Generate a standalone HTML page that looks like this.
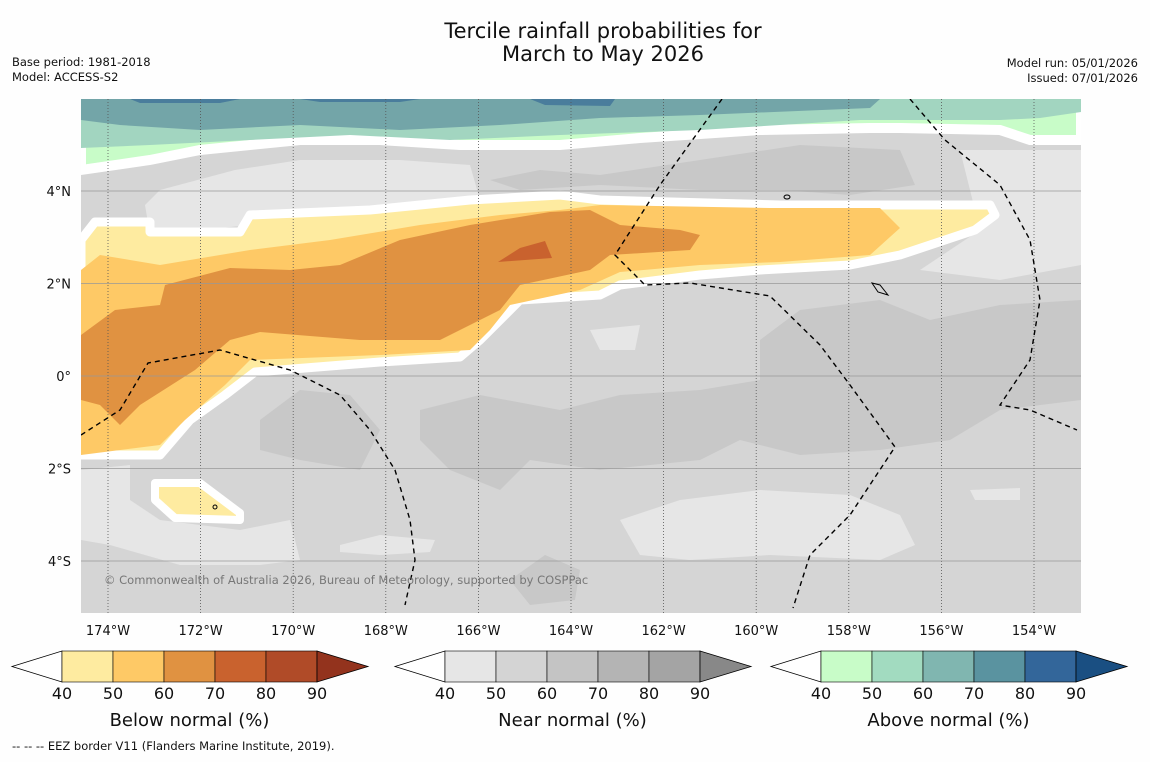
<!DOCTYPE html>
<html><head><meta charset="utf-8"><style>
body{margin:0;background:#fefefe;width:1150px;height:758px;overflow:hidden;font-family:"DejaVu Sans","Liberation Sans",sans-serif}
</style></head><body>
<svg width="1150" height="758" viewBox="0 0 1150 758" xmlns="http://www.w3.org/2000/svg" font-family="DejaVu Sans, Liberation Sans, sans-serif">
<rect width="1150" height="758" fill="#fefefe"/>
<text x="603" y="38" font-size="21" text-anchor="middle" fill="#111">Tercile rainfall probabilities for</text>
<text x="603" y="61" font-size="21" text-anchor="middle" fill="#111">March to May 2026</text>
<g font-size="11.5" fill="#111">
<text x="12" y="66">Base period: 1981-2018</text>
<text x="12" y="81">Model: ACCESS-S2</text>
<text x="1138" y="67" text-anchor="end">Model run: 05/01/2026</text>
<text x="1138" y="82" text-anchor="end">Issued: 07/01/2026</text>
</g>
<defs><clipPath id="mc"><rect x="81" y="99" width="1000" height="514"/></clipPath></defs>
<g clip-path="url(#mc)">
<rect x="81" y="99" width="1000" height="514" fill="#d5d5d5"/>
<g fill="#c8c8c8">
<path d="M490,180 L540,170 L600,175 L700,160 L800,145 L900,150 L915,185 L850,195 L780,190 L700,190 L600,185 L520,190 Z"/>
<path d="M760,340 L800,310 L880,300 L930,320 L1000,305 L1081,300 L1081,400 L1000,410 L950,440 L880,450 L800,455 L740,440 L700,460 L600,470 L530,460 L500,490 L450,470 L420,440 L420,410 L480,395 L560,410 L620,395 L700,390 L760,380 Z"/>
<path d="M260,420 L300,390 L350,395 L380,430 L360,470 L300,460 L260,450 Z"/>
<path d="M510,580 L545,555 L580,570 L575,600 L530,605 Z"/>
</g>
<g fill="#e6e6e6">
<path d="M145,205 L160,190 L235,170 L300,160 L400,160 L470,165 L480,200 L420,205 L330,215 L250,225 L150,235 Z"/>
<path d="M960,150 L1081,150 L1081,265 L1000,280 L920,270 L980,230 Z"/>
<path d="M81,470 L130,465 L130,500 L160,520 L240,530 L290,520 L300,560 L260,565 L180,565 L110,545 L81,540 Z"/>
<path d="M620,520 L680,500 L760,490 L850,495 L900,515 L915,545 L880,560 L770,555 L690,560 L640,555 Z"/>
<path d="M340,545 L380,535 L435,540 L430,552 L380,555 L340,552 Z"/>
<path d="M590,330 L640,325 L635,350 L600,350 Z"/>
<path d="M970,490 L1020,488 L1020,500 L975,500 Z"/>
</g>
<path d="M81,99 L1081,99 L1081,140 L1030,140 L1000,130 L900,128 L870,128 L760,130 L640,138 L560,145 L460,145 L380,140 L300,140 L250,145 L200,150 L150,160 L81,170 Z" fill="#c8fcc8" stroke="#fff" stroke-width="10"/>
<path d="M81,99 L1081,99 L1081,112 L1040,118 L1000,120 L920,120 L860,120 L700,130 L560,135 L450,140 L350,135 L250,140 L150,145 L81,148 Z" fill="#a2d5c0"/>
<path d="M81,99 L880,99 L870,108 L700,115 L600,118 L500,125 L400,130 L300,125 L200,130 L120,125 L81,120 Z" fill="#73a5a8"/>
<path d="M130,99 L240,99 L220,103 L140,103 Z M530,99 L615,99 L610,106 L545,105 Z M300,99 L420,99 L400,102 L320,102 Z" fill="#4a7d9c"/>
<path d="M81,240 L95,222 L150,222 L150,232 L240,232 L250,215 L370,210 L420,205 L470,200 L560,195 L600,200 L780,205 L990,205 L995,215 L975,230 L900,255 L850,265 L760,270 L700,275 L620,285 L600,295 L520,300 L480,340 L460,357 L380,362 L255,372 L225,395 L190,420 L160,455 L81,455 Z" fill="#feeba0" stroke="#fff" stroke-width="9" stroke-linejoin="round"/>
<path d="M81,270 L100,255 L160,265 L250,250 L330,240 L420,225 L500,215 L560,210 L600,205 L770,208 L880,208 L900,228 L870,255 L780,262 L700,265 L620,272 L580,290 L510,305 L490,330 L470,350 L380,355 L250,360 L225,385 L185,420 L160,445 L81,455 Z" fill="#fec966"/>
<path d="M81,335 L115,310 L160,305 L165,285 L230,268 L290,270 L340,265 L400,240 L470,225 L550,212 L590,210 L620,225 L680,230 L700,235 L690,250 L610,255 L590,270 L520,285 L500,310 L470,325 L440,340 L360,340 L260,332 L230,340 L195,370 L140,405 L120,425 L100,405 L81,400 Z" fill="#e09241"/>
<path d="M498,262 L520,248 L545,241 L552,258 Z" fill="#c9622e"/>
<path d="M155,483 L200,483 L240,513 L240,520 L175,518 L155,500 Z" fill="#feeba0" stroke="#fff" stroke-width="8" stroke-linejoin="round"/>
<g id="grid"></g>
<g fill="none" stroke="#000" stroke-width="1.4" stroke-dasharray="5,4">
<path d="M81,435 L120,410 L148,363 L220,350 L290,370 L340,395 L370,430 L395,470 L410,520 L415,560 L405,605"/>
<path d="M722,99 L660,185 L615,255 L645,285 L690,283 L770,296 L820,345 L850,385 L895,447 L850,515 L810,555 L793,608"/>
<path d="M910,99 L945,140 L1000,185 L1030,240 L1040,300 L1030,360 L1000,405 L1030,410 L1077,430"/>
</g>
<g fill="none" stroke="#000" stroke-width="1">
<ellipse cx="787" cy="197" rx="3" ry="2"/><path d="M872,283 L880,285 L888,295 L878,292 Z"/>
<ellipse cx="215" cy="507" rx="2" ry="2"/>
</g>
<text x="104" y="584" font-size="11.5" fill="#777">© Commonwealth of Australia 2026, Bureau of Meteorology, supported by COSPPac</text>
</g>
<g id="axes" font-size="13" fill="#111"></g>
<g id="cbars"></g>
<text x="12" y="750" font-size="11.5" fill="#111">--  --  -- EEZ border V11 (Flanders Marine Institute, 2019).</text>
<script>
const lonTicks=[174,172,170,168,166,164,162,160,158,156,154];
const latTicks=[4,2,0,-2,-4];
const cbTicks=[40,50,60,70,80,90];
const cbNames=["Below normal (%)","Near normal (%)","Above normal (%)"];
const cbColors=[["#feeba0","#fec966","#e09241","#c9622e","#b04b28","#93331d"],
["#e6e6e6","#d4d4d4","#c4c4c4","#b4b4b4","#a4a4a4","#888888"],
["#c8fcc8","#a2dbc0","#80b6b0","#5a93a0","#33669a","#1a4f82"]];
const cbStarts=[62,445,821];
const NS="http://www.w3.org/2000/svg";
const xLon=l=>108+(174-l)*46.3, yLat=l=>376-l*46.25;
function mk(t,a,p){const e=document.createElementNS(NS,t);for(const k in a)e.setAttribute(k,a[k]);p.appendChild(e);return e;}
const g=document.getElementById('grid'),ax=document.getElementById('axes'),cb=document.getElementById('cbars');
lonTicks.forEach(l=>{const x=xLon(l);
const ln=mk('line',{x1:x,x2:x,y1:99,y2:613,stroke:'#555','stroke-width':0.8,'stroke-dasharray':'1,2'},g);


const t=mk('text',{x:x,y:635,'text-anchor':'middle'},ax);t.textContent=l+'°W';

});
latTicks.forEach(l=>{const y=yLat(l);
const ln=mk('line',{x1:81,x2:1081,y1:y,y2:y,stroke:'#999','stroke-width':0.8},g);


const t=mk('text',{x:71,y:y+5,'text-anchor':'end'},ax);t.textContent=l==0?'0°':Math.abs(l)+'°'+(l>0?'N':'S');

});
cbStarts.forEach((s,i)=>{const w=51,y0=651,h=31,end=s+5*w;
const grp=mk('g',{},cb);


mk('polygon',{points:`${s-50},${y0+h/2} ${s},${y0} ${s},${y0+h}`,fill:'#fff',stroke:'#000','stroke-width':0.8},grp);
for(let k=0;k<5;k++)mk('rect',{x:s+k*w,y:y0,width:w,height:h,fill:cbColors[i][k],stroke:'#000','stroke-width':0.6},grp);
mk('polygon',{points:`${end},${y0} ${end+51},${y0+h/2} ${end},${y0+h}`,fill:cbColors[i][5],stroke:'#000','stroke-width':0.8},grp);
cbTicks.forEach((v,k)=>{const t=mk('text',{x:s+k*w,y:699,'font-size':16,'text-anchor':'middle',fill:'#111'},grp);t.textContent=v;});
const tt=mk('text',{x:s+2.5*w,y:726,'font-size':18,'text-anchor':'middle',fill:'#111'},grp);tt.textContent=cbNames[i];

});
</script>
</svg>
</body></html>
